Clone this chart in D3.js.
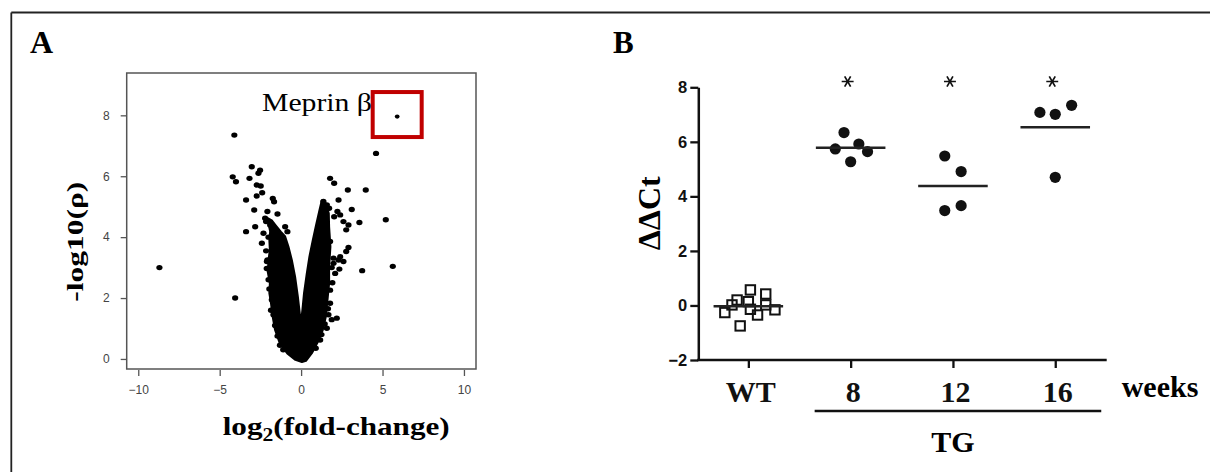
<!DOCTYPE html>
<html lang="en">
<head>
<meta charset="utf-8">
<title>Meprin beta</title>
<script src="https://cdn.jsdelivr.net/npm/d3@7"></script>
<style>
  body { margin: 0; background: #fff; }
</style>
</head>
<body>
<div id="drawing"></div>
<script>

// ---- panel A, volcano plot ----
var volcanoTicksX = [-10, -5, 0, 5, 10];
var volcanoTicksY = [0, 2, 4, 6, 8];

// outline of the dense cloud of genes around the origin, [log2 fold-change, -log10 p]
var volcanoCloud = [
	[0.05, -0.1], [-0.35, -0.03], [-0.85, 0.18], [-1.3, 0.5], [-1.6, 0.95], [-1.75, 1.4],
	[-1.85, 1.83], [-1.95, 2.16], [-1.92, 2.48], [-2.05, 2.87], [-2.0, 3.25], [-1.92, 3.58],
	[-1.95, 3.91], [-1.9, 4.18], [-2.0, 4.45], [-2.05, 4.62],
	[-1.8, 4.55], [-1.55, 4.38], [-1.25, 4.18], [-0.98, 4.02],
	[-0.78, 3.69], [-0.57, 3.25], [-0.37, 2.7], [-0.2, 2.05], [-0.07, 1.44], [0.0, 1.23],
	[0.08, 1.61], [0.18, 2.16], [0.35, 2.81], [0.51, 3.36], [0.72, 3.91], [0.92, 4.4],
	[1.13, 4.89], [1.27, 5.2],
	[1.5, 5.12], [1.7, 4.78],
	[1.72, 4.34], [1.8, 3.69], [1.72, 3.03], [1.72, 2.48], [1.62, 1.94], [1.52, 1.39],
	[1.33, 0.95], [1.04, 0.57], [0.66, 0.19], [0.3, -0.06]
];

// single genes outside / on the edge of the cloud
var volcanoPoints = [
	[-8.7, 3.0], [-4.05, 2.0], [-4.1, 7.35],
	[-4.2, 5.98], [-4.0, 5.82], [-3.03, 6.31], [-3.17, 5.93], [-2.52, 6.2], [-2.62, 6.1],
	[-2.73, 5.71], [-2.48, 5.68], [-3.38, 5.22], [-2.73, 5.35], [-2.39, 5.46], [-1.74, 5.27],
	[-1.66, 5.16], [-2.88, 4.89], [-2.07, 4.84], [-1.45, 4.76], [-2.21, 4.62], [-2.15, 4.51],
	[-3.38, 4.18], [-2.82, 4.34], [-1.9, 4.4], [-0.98, 4.34], [-0.84, 4.18], [-2.31, 4.13],
	[-2.41, 3.8], [-1.8, 3.96], [-1.19, 3.96], [-2.07, 3.25], [-2.11, 2.97], [-1.8, 2.92],
	[-1.39, 2.97], [-1.7, 2.59], [-1.8, 1.94], [-1.7, 1.45], [-1.29, 2.37], [-2.1, 3.2],
	[-1.3, 0.45], [-1.1, 0.3], [-1.95, 2.3], [-2.0, 2.6], [-1.85, 1.6], [-1.6, 1.1],
	[-1.45, 0.75], [-2.15, 3.55], [-2.0, 4.0],
	[4.6, 6.75], [5.2, 4.57], [5.63, 3.04], [3.75, 2.9], [3.97, 5.55], [2.87, 5.55],
	[3.11, 4.91], [3.58, 4.48], [2.3, 5.22], [2.23, 4.84], [2.4, 4.73], [1.78, 5.93],
	[2.03, 5.77], [1.37, 5.17], [1.58, 5.06], [1.72, 4.95], [2.03, 4.67], [2.6, 4.51],
	[2.91, 4.4], [2.77, 4.24], [1.27, 4.51], [1.06, 4.24], [1.37, 4.02], [1.78, 3.86],
	[2.91, 3.66], [2.77, 3.53], [1.99, 3.31], [2.3, 3.25], [2.6, 3.2], [2.4, 3.36],
	[1.99, 3.14], [2.09, 2.81], [2.35, 2.95], [1.78, 2.26], [1.78, 1.83], [1.68, 1.45],
	[2.19, 1.34], [1.88, 1.29], [1.58, 1.01], [1.17, 0.62], [1.88, 3.0], [1.92, 2.5],
	[1.65, 1.65], [1.45, 1.15], [1.25, 0.8], [0.9, 0.35]
];

var meprinPoint = [5.9, 7.96];
var meprinLabel = 'Meprin \u03b2';

// ---- panel B, qPCR per group ----
var groups = ['WT', '8', '12', '16'];
var groupIsTG = [false, true, true, true];
var ddctTicks = [-2, 0, 2, 4, 6, 8];

// delta delta Ct of every animal, with the sideways scatter in group units
var wtValues = [0.57, 0.42, 0.2, 0.02, 0.14, -0.14, -0.26, -0.35, 0.02, -0.16, -0.75];
var wtJitter = [0.02, 0.17, -0.11, -0.16, 0, 0.02, -0.23, 0.09, 0.17, 0.26, -0.08];
var tg8Values = [6.34, 5.74, 5.92, 5.64, 5.27];
var tg8Jitter = [-0.065, -0.15, 0.08, 0.165, 0];
var tg12Values = [5.48, 4.91, 3.48, 3.66];
var tg12Jitter = [-0.08, 0.08, -0.08, 0.08];
var tg16Values = [7.08, 7.01, 7.34, 4.7];
var tg16Jitter = [-0.15, 0, 0.16, 0];


var serif = '"Liberation Serif", "Times New Roman", serif';
var sans = '"Liberation Sans", Arial, sans-serif';

var svg = d3.select('#drawing').append('svg').attr('width', 1210).attr('height', 472);

// frame round the figure
svg.append('line').attr('x1', 11.3).attr('x2', 1210).attr('y1', 12.5).attr('y2', 12.5)
	.attr('stroke', '#222').attr('stroke-width', 1.8);
svg.append('line').attr('x1', 11.3).attr('x2', 11.3).attr('y1', 12.5).attr('y2', 472)
	.attr('stroke', '#222').attr('stroke-width', 1.8);

svg.append('text').attr('x', 30).attr('y', 53).text('A')
	.attr('font-family', serif).attr('font-weight', 'bold').attr('font-size', 32);
svg.append('text').attr('x', 613).attr('y', 53).text('B')
	.attr('font-family', serif).attr('font-weight', 'bold').attr('font-size', 31);

drawVolcano();
drawDdct();

function drawVolcano() {
	var x = d3.scaleLinear().domain([-10.71, 10.74]).range([126.7, 476]);
	var y = d3.scaleLinear().domain([-0.33, 9.39]).range([369, 73]);

	var g = svg.append('g');

	g.append('rect').attr('x', 126.7).attr('y', 73).attr('width', 349.3).attr('height', 296)
		.attr('fill', 'none').attr('stroke', '#555').attr('stroke-width', 1.5);

	var ax = g.append('g').attr('transform', 'translate(0,370)')
		.call(d3.axisBottom(x).tickValues(volcanoTicksX).tickSize(6).tickPadding(9));
	ax.select('.domain').remove();
	ax.selectAll('line').attr('stroke', '#555').attr('stroke-width', 1.3);
	ax.selectAll('text').attr('font-family', sans).attr('font-size', 12).attr('fill', '#444');

	var ay = g.append('g').attr('transform', 'translate(126.7,0)')
		.call(d3.axisLeft(y).tickValues(volcanoTicksY).tickSize(6).tickPadding(11));
	ay.select('.domain').remove();
	ay.selectAll('line').attr('stroke', '#555').attr('stroke-width', 1.3);
	ay.selectAll('text').attr('font-family', sans).attr('font-size', 12).attr('fill', '#444');

	// dense cloud, an outline with the white wedge between the two arms
	var cloud = d3.line().x(function(d) { return x(d[0]); }).y(function(d) { return y(d[1]); })
		.curve(d3.curveLinearClosed);
	g.append('path').attr('d', cloud(volcanoCloud))
		.attr('fill', '#000').attr('fill-rule', 'evenodd')
		.attr('stroke', '#000').attr('stroke-width', 2).attr('stroke-linejoin', 'round');

	g.selectAll('.gene').data(volcanoPoints).enter().append('ellipse')
		.attr('class', 'gene')
		.attr('cx', function(d) { return x(d[0]); })
		.attr('cy', function(d) { return y(d[1]); })
		.attr('rx', 3.1).attr('ry', 2.7).attr('fill', '#000');

	var mx = x(meprinPoint[0]), my = y(meprinPoint[1]);
	g.append('ellipse').attr('cx', mx).attr('cy', my).attr('rx', 2.4).attr('ry', 2.1).attr('fill', '#000');
	g.append('rect').attr('x', mx - 24.5).attr('y', my - 24.5).attr('width', 49).attr('height', 45)
		.attr('fill', 'none').attr('stroke', '#c00000').attr('stroke-width', 4);
	g.append('text').attr('x', 262).attr('y', 111).text(meprinLabel)
		.attr('font-family', serif).attr('font-size', 25)
		.attr('textLength', 110).attr('lengthAdjust', 'spacingAndGlyphs');

	var xt = g.append('text').attr('x', 222.7).attr('y', 435)
		.attr('font-family', serif).attr('font-weight', 'bold').attr('font-size', 26)
		.attr('textLength', 227).attr('lengthAdjust', 'spacingAndGlyphs');
	xt.append('tspan').text('log');
	xt.append('tspan').attr('font-size', 18).attr('dy', 6).text('2');
	xt.append('tspan').attr('dy', -6).text('(fold-change)');

	g.append('text').attr('transform', 'translate(83,241.7) rotate(-90)')
		.attr('text-anchor', 'middle').text('-log10(\u03c1)')
		.attr('font-family', serif).attr('font-weight', 'bold').attr('font-size', 23)
		.attr('textLength', 120).attr('lengthAdjust', 'spacingAndGlyphs');
}

function drawDdct() {
	var x = d3.scaleLinear().domain([-0.5, 3.5]).range([697.2, 1106.4]);
	var y = d3.scaleLinear().domain([-2, 8]).range([360, 87.3]);

	var g = svg.append('g');

	var ay = g.append('g').attr('transform', 'translate(698.3,0)')
		.call(d3.axisLeft(y).tickValues(ddctTicks).tickSize(8).tickSizeOuter(0).tickPadding(3));
	ay.select('.domain').attr('stroke', '#111').attr('stroke-width', 2.5);
	ay.selectAll('line').attr('stroke', '#111').attr('stroke-width', 2.3);
	ay.selectAll('text').attr('font-family', sans).attr('font-weight', 'bold').attr('font-size', 16.5).attr('fill', '#111');

	var ax = g.append('g').attr('transform', 'translate(0,360)')
		.call(d3.axisBottom(x).tickValues([0, 1, 2, 3]).tickSize(8).tickSizeOuter(0)
			.tickFormat(function(d) { return groups[d]; }));
	ax.select('.domain').attr('d', 'M697.2,0H1106.7').attr('stroke', '#111').attr('stroke-width', 2.5);
	ax.selectAll('line').attr('stroke', '#111').attr('stroke-width', 2.3);
	ax.selectAll('text').attr('dy', null).attr('y', 41.7).attr('dx', 2)
		.attr('font-family', serif).attr('font-weight', 'bold').attr('font-size', 30).attr('fill', '#111');

	var sets = [
		{ values: wtValues, jitter: wtJitter },
		{ values: tg8Values, jitter: tg8Jitter },
		{ values: tg12Values, jitter: tg12Jitter },
		{ values: tg16Values, jitter: tg16Jitter }
	];

	var star = d3.symbol(d3.symbolAsterisk).size(100);

	sets.forEach(function(set, i) {
		var pts = set.values.map(function(v, j) { return { x: i + set.jitter[j], v: v }; });

		if (groupIsTG[i]) {
			g.selectAll('.dot' + i).data(pts).enter().append('circle')
				.attr('cx', function(d) { return x(d.x); })
				.attr('cy', function(d) { return y(d.v); })
				.attr('r', 5.6).attr('fill', '#111');
		} else {
			g.selectAll('.sq' + i).data(pts).enter().append('rect')
				.attr('x', function(d) { return x(d.x) - 4.7; })
				.attr('y', function(d) { return y(d.v) - 4.7; })
				.attr('width', 9.4).attr('height', 9.4)
				.attr('fill', 'none').attr('stroke', '#111').attr('stroke-width', 2);
		}

		var mean = d3.mean(set.values);
		g.append('line').attr('x1', x(i - 0.34)).attr('x2', x(i + 0.34))
			.attr('y1', y(mean)).attr('y2', y(mean))
			.attr('stroke', '#222').attr('stroke-width', 2.6);

		// significance mark above the group
		if (groupIsTG[i]) {
			g.append('path').attr('d', star)
				.attr('transform', 'translate(' + (x(i) - 3) + ',81.5) rotate(90)')
				.attr('fill', 'none').attr('stroke', '#111').attr('stroke-width', 1.7);
		}
	});

	// TG bracket under the week labels
	g.append('line').attr('x1', x(1) - 36).attr('x2', x(3) + 46).attr('y1', 411).attr('y2', 411)
		.attr('stroke', '#111').attr('stroke-width', 2.5);
	g.append('text').attr('x', x(2)).attr('y', 452).attr('text-anchor', 'middle').text('TG')
		.attr('font-family', serif).attr('font-weight', 'bold').attr('font-size', 30);
	g.append('text').attr('x', 1121.7).attr('y', 397).text('weeks')
		.attr('font-family', serif).attr('font-weight', 'bold').attr('font-size', 30);

	g.append('text').attr('transform', 'translate(660,213.3) rotate(-90)')
		.attr('text-anchor', 'middle').text('\u0394\u0394Ct')
		.attr('font-family', serif).attr('font-weight', 'bold').attr('font-size', 32);
}

</script>
</body>
</html>
